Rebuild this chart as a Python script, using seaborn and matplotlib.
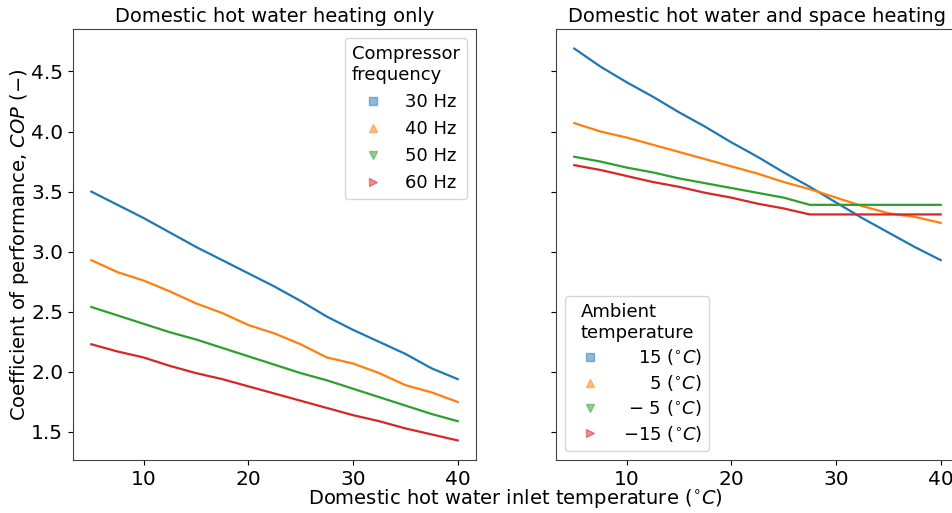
import numpy as np
import pandas as pd
import matplotlib
matplotlib.use("Agg")
import matplotlib.pyplot as plt
from matplotlib.lines import Line2D
import seaborn as sns

# Domestic hot water inlet temperature (degC)
inlet_temp = [5, 7.5, 10, 12.5, 15, 17.5, 20, 22.5, 25, 27.5, 30, 32.5, 35, 37.5, 40]

# COP, domestic hot water heating only, by compressor frequency
freq_labels = ["30 Hz", "40 Hz", "50 Hz", "60 Hz"]
cop_30hz = [3.50, 3.39, 3.28, 3.16, 3.04, 2.93, 2.82, 2.71, 2.59, 2.46, 2.35, 2.25, 2.15, 2.03, 1.94]
cop_40hz = [2.93, 2.83, 2.76, 2.67, 2.57, 2.49, 2.39, 2.32, 2.23, 2.12, 2.07, 1.99, 1.89, 1.83, 1.75]
cop_50hz = [2.54, 2.47, 2.40, 2.33, 2.27, 2.20, 2.13, 2.06, 1.99, 1.93, 1.86, 1.79, 1.72, 1.65, 1.59]
cop_60hz = [2.23, 2.17, 2.12, 2.05, 1.99, 1.94, 1.88, 1.82, 1.76, 1.70, 1.64, 1.59, 1.53, 1.48, 1.43]

# COP, domestic hot water and space heating, by ambient temperature
amb_labels = [r"$15\ (^{\circ}C)$", r"$5\ (^{\circ}C)$", r"$-\ 5\ (^{\circ}C)$", r"$-15\ (^{\circ}C)$"]
cop_amb_15 = [4.69, 4.54, 4.41, 4.29, 4.16, 4.04, 3.91, 3.79, 3.66, 3.54, 3.41, 3.28, 3.16, 3.04, 2.93]
cop_amb_5 = [4.07, 4.00, 3.95, 3.89, 3.83, 3.77, 3.71, 3.65, 3.58, 3.52, 3.45, 3.38, 3.32, 3.29, 3.24]
cop_amb_m5 = [3.79, 3.75, 3.70, 3.66, 3.61, 3.57, 3.53, 3.49, 3.45, 3.39, 3.39, 3.39, 3.39, 3.39, 3.39]
cop_amb_m15 = [3.72, 3.68, 3.63, 3.58, 3.54, 3.49, 3.45, 3.40, 3.36, 3.31, 3.31, 3.31, 3.31, 3.31, 3.31]


def long_frame(series, labels):
    rows = []
    for lab, vals in zip(labels, series):
        for t, v in zip(inlet_temp, vals):
            rows.append({"T": t, "COP": v, "group": lab})
    return pd.DataFrame(rows)


df_dhw = long_frame([cop_30hz, cop_40hz, cop_50hz, cop_60hz], freq_labels)
df_sh = long_frame([cop_amb_15, cop_amb_5, cop_amb_m5, cop_amb_m15], amb_labels)

plt.rcParams["font.family"] = ["DejaVu Sans"]
plt.rcParams["mathtext.fontset"] = "dejavusans"

palette = sns.color_palette("tab10", 4)
markers = ["s", "^", "v", ">"]

fig = plt.figure(figsize=(9.53, 5.13), dpi=100)
W, H = 953, 513
ax1 = fig.add_axes([73 / W, 1 - 460 / H, 403 / W, 431 / H])
ax2 = fig.add_axes([556 / W, 1 - 460 / H, 403 / W, 431 / H], sharey=ax1)

sns.lineplot(data=df_dhw, x="T", y="COP", hue="group", hue_order=freq_labels,
             palette=palette, linewidth=1.6, legend=False, ax=ax1)
sns.lineplot(data=df_sh, x="T", y="COP", hue="group", hue_order=amb_labels,
             palette=palette, linewidth=1.6, legend=False, ax=ax2)

for ax in (ax1, ax2):
    ax.set_xlabel("")
    ax.set_ylabel("")
    ax.set_xticks([10, 20, 30, 40])
    ax.tick_params(labelsize=14.5)
    for s in ax.spines.values():
        s.set_linewidth(0.8)
        s.set_color("#444444")

ax1.set_yticks([1.5, 2.0, 2.5, 3.0, 3.5, 4.0, 4.5])
ax2.tick_params(labelleft=False)

ax1.set_title("Domestic hot water heating only", fontsize=14, pad=5)
ax2.set_title("Domestic hot water and space heating", fontsize=14, pad=5)
ax1.set_ylabel(r"Coefficient of performance, $COP$ $(-)$", fontsize=14, labelpad=0)
fig.text((73 + 958) / 2 / W, 1 - 499 / H,
         r"Domestic hot water inlet temperature $(^{\circ}C)$",
         ha="center", va="center", fontsize=14)


def marker_handles(labels):
    return [Line2D([0], [0], linestyle="", marker=m, color=c, alpha=0.5,
                   markersize=6, label=lab)
            for lab, m, c in zip(labels, markers, palette)]


leg1 = ax1.legend(handles=marker_handles(freq_labels), title="Compressor\nfrequency",
                  loc="upper right", fontsize=13, title_fontsize=13)
leg2 = ax2.legend(handles=marker_handles(amb_labels), title="Ambient\ntemperature",
                  loc="lower left", fontsize=13, title_fontsize=13, labelspacing=0.3)

# right-align the entry texts of each legend
fig.canvas.draw()
renderer = fig.canvas.get_renderer()
for leg in (leg1, leg2):
    texts = leg.get_texts()
    widths = [t.get_window_extent(renderer).width for t in texts]
    wmax = max(widths)
    for t, w in zip(texts, widths):
        t.set_position((wmax - w, 0))

fig.savefig("out.png", dpi=100)
